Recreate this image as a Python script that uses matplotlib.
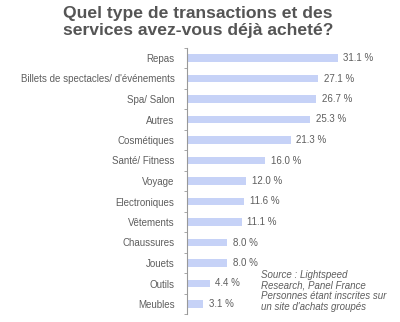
import matplotlib
matplotlib.use("Agg")
import matplotlib.pyplot as plt
import numpy as np

categories = ["Repas", "Billets de spectacles/ d'événements", "Spa/ Salon", "Autres",
              "Cosmétiques", "Santé/ Fitness", "Voyage", "Electroniques", "Vêtements",
              "Chaussures", "Jouets", "Outils", "Meubles"]
values = [31.1, 27.1, 26.7, 25.3, 21.3, 16.0, 12.0, 11.6, 11.1, 8.0, 8.0, 4.4, 3.1]
value_labels = ["31.1 %", "27.1 %", "26.7 %", "25.3 %", "21.3 %", "16.0 %", "12.0 %",
                "11.6 %", "11.1 %", "8.0 %", "8.0 %", "4.4 %", "3.1 %"]
title = "Quel type de transactions et des\nservices avez-vous déjà acheté?"
source = "Source : Lightspeed\nResearch, Panel France\nPersonnes étant inscrites sur\nun site d'achats groupés"

plt.rcParams['font.family'] = ['Liberation Sans', 'DejaVu Sans']
grey = "#5e5e5e"

fig = plt.figure(figsize=(4.0, 3.22), dpi=100)
W, H = 400, 322
ax = fig.add_axes([187 / W, 1 - 314.25 / H, 200 / W, 266.5 / H])

y = np.arange(len(categories))
ax.barh(y, values, height=0.37, color="#c6d2f7", left=0.3)
ax.set_xlim(0, 41.7)
ax.set_ylim(len(categories) - 0.5, -0.5)

for yi, v, lab in zip(y, values, value_labels):
    ax.text(v + 0.3 + 1.2, yi, lab, va="center", ha="left", fontsize=7, color=grey)

ax.set_yticks(y)
ax.set_yticklabels(categories, fontsize=7, color=grey)
ax.tick_params(axis="y", which="major", length=0, pad=9)
ax.set_yticks(np.arange(len(categories) + 1) - 0.5, minor=True)
ax.tick_params(axis="y", which="minor", length=2.5, color="#999999", direction="out")
ax.set_xticks([])
for s in ["top", "right", "bottom"]:
    ax.spines[s].set_visible(False)
ax.spines["left"].set_color("#999999")
ax.spines["left"].set_linewidth(0.8)

fig.text(198 / W, 1 - 22 / H, title, ha="center", va="center", fontsize=12.6,
         fontweight="bold", color="#555555", linespacing=1.12)
fig.text(261 / W, 1 - 291 / H, source, ha="left", va="center", fontsize=7.0,
         style="italic", color=grey, linespacing=1.1)

fig.savefig("out.png", dpi=100)
